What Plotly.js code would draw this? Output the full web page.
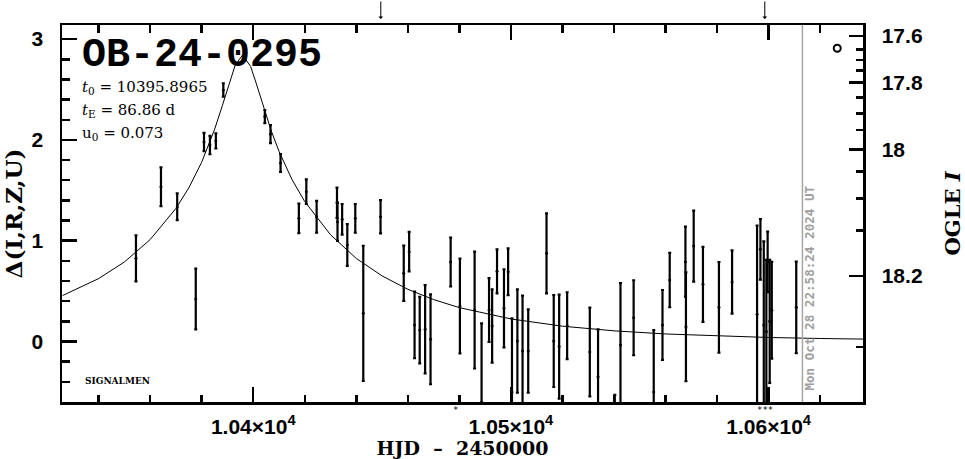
<!DOCTYPE html>
<html>
<head>
<meta charset="utf-8">
<script src="https://cdn.plot.ly/plotly-3.0.1.min.js"></script>
<style>html,body{margin:0;padding:0;background:#fff;}#chart{width:965px;height:459px;}</style>
</head>
<body>
<div id="chart"></div>
<script>
// Observed OGLE points: HJD-2450000, Delta(I,R,Z,U), error
const hjd = [10354.5,10364.2,10370.5,10377.7,10380.9,10383.2,10385.5,10388.4,10396.8,10404.5,
  10406.7,10410.6,10417.7,10420.6,10424.6,10432.5,10432.7,10434.5,10436.5,10439.6,
  10442.7,10449.4,10458.4,10460.5,10462.6,10464.6,10466.7,10468.8,10476.6,10480.2,
  10485.9,10488.6,10491.5,10492.7,10494.6,10497.3,10498.9,10500.4,10502.5,10504.5,
  10506.7,10513.8,10516.6,10518.7,10521.8,10530.6,10533.8,10540.3,10542.5,10547.6,
  10555.4,10558.8,10561.6,10567.7,10567.9,10570.9,10574.5,10580.7,10585.8,10595.5,
  10596.8,10598.1,10599.1,10599.6,10600.4,10601.2,10610.7];
const delta = [0.825,1.536,1.337,0.422,1.979,1.95,1.99,2.495,2.862,2.232,
  2.058,1.771,1.222,1.486,1.238,1.377,1.188,1.212,0.957,1.222,
  0.28,1.238,0.677,0.891,0.164,0.114,0.121,0.022,0.789,0.352,
  0.3125,-0.6,0.3125,0.154,0.696,0.329,0.693,-0.5,0.005,-0.094,
  -0.094,0.875,0.005,-0.05,0.157,-0.104,-0.35,-0.95,-0.035,0.236,
  -0.5,0.164,0.61,0.792,0.147,0.947,0.567,0.339,0.59,0.27,
  0.915,0.164,0.1,0.79,0.2,0.31,0.339];
const deltaErr = [0.228,0.192,0.132,0.301,0.09,0.09,0.075,0.066,0.075,0.065,
  0.09,0.088,0.146,0.122,0.157,0.15,0.19,0.152,0.207,0.141,
  0.67,0.165,0.274,0.196,0.33,0.33,0.438,0.446,0.243,0.471,
  0.58,0.78,0.317,0.364,0.218,0.387,0.232,0.73,0.513,0.55,
  0.413,0.397,0.456,0.516,0.332,0.44,0.47,0.42,0.615,0.372,
  0.614,0.347,0.27,0.347,0.54,0.352,0.372,0.45,0.314,0.88,
  0.3,0.83,0.71,0.3,0.61,0.48,0.454];

// Model curve
const modelHjd = [10326,10340,10350,10360,10370,10375,10380,10385,10388,10391,10393,10395.9,
  10399,10401,10404,10407,10410,10415,10420,10430,10440,10450,10460,10470,10480,
  10500,10520,10540,10560,10580,10600,10620,10637];
const modelDelta = [0.456,0.624,0.789,1.011,1.320,1.524,1.779,2.104,2.339,2.591,2.741,2.844,
  2.728,2.574,2.322,2.089,1.887,1.609,1.388,1.059,0.824,0.651,0.518,0.416,0.336,
  0.224,0.152,0.106,0.075,0.054,0.040,0.030,0.024];

// Groups of points below the plotted range, marked with '*' (one per point)
const offscaleHjd = [10478.5,10598.4];
const offscaleCount = [1,3];
// Arrows on top
const arrowHjd = [10449.5,10598.5];
// Current-time line
const nowHjd = 10613.1;
const nowLabel = 'Mon Oct 28 22:58:24 2024 UT';
// Symbol at top right
const symbolHjd = [10626.6];
const symbolDelta = [2.909];

// Axis ticks
const xTickVals = [10400,10500,10600];
const xTickText = ['1.04×10<sup>4</sup>','1.05×10<sup>4</sup>','1.06×10<sup>4</sup>'];
const yTickVals = [0,1,2,3];
const ogleMajorDelta = [3.031,2.571,1.907,0.650];
const ogleMajorText = ['17.6','17.8','18','18.2'];
const ogleMinorDelta = [2.899,2.793,2.687,2.423,2.264,2.098,1.685,1.421,1.099,-0.052];

const xRange = [10325.8,10636.6];
const yRange = [-0.6,3.14];

const traces = [
  {x: modelHjd, y: modelDelta, mode: 'lines', line: {color: 'black', width: 1}, hoverinfo: 'skip'},
  {x: hjd, y: delta, mode: 'markers', marker: {color: 'black', size: 3},
   error_y: {type: 'data', array: deltaErr, visible: true, color: 'black', thickness: 2.2, width: 1.5}},
  {x: symbolHjd, y: symbolDelta, mode: 'markers', marker: {symbol: 'circle-open', size: 7, color: 'black', line: {width: 2, color: 'black'}}},
  {x: xRange, y: yRange, yaxis: 'y2', mode: 'lines', line: {width: 0, color: 'rgba(0,0,0,0)'}, hoverinfo: 'skip'}
];

const axisCommon = {
  showgrid: false, zeroline: false, showline: true, linecolor: 'black', linewidth: 2.5,
  ticks: 'inside', ticklen: 15, tickwidth: 2.5, tickcolor: 'black'
};

const annotations = [
  {xref: 'paper', yref: 'paper', x: 0.0225, y: 0.920, xanchor: 'left', yanchor: 'middle', showarrow: false,
   text: 'OB-24-0295', font: {family: 'Liberation Mono', size: 40, color: 'black', weight: 'bold'}},
  {xref: 'paper', yref: 'paper', x: 0.0225, y: 0.833, xanchor: 'left', yanchor: 'middle', showarrow: false,
   text: '<i>t</i><sub>0</sub> = 10395.8965', font: {family: 'DejaVu Serif', size: 15, color: 'black'}},
  {xref: 'paper', yref: 'paper', x: 0.0225, y: 0.773, xanchor: 'left', yanchor: 'middle', showarrow: false,
   text: '<i>t</i><sub>E</sub> = 86.86 d', font: {family: 'DejaVu Serif', size: 15, color: 'black'}},
  {xref: 'paper', yref: 'paper', x: 0.0225, y: 0.713, xanchor: 'left', yanchor: 'middle', showarrow: false,
   text: 'u<sub>0</sub> = 0.073', font: {family: 'DejaVu Serif', size: 15, color: 'black'}},
  {xref: 'paper', yref: 'paper', x: 0.026, y: 0.0557, xanchor: 'left', yanchor: 'middle', showarrow: false,
   text: 'SIGNALMEN', font: {family: 'DejaVu Serif', size: 9, color: 'black', weight: 'bold'}},
  {xref: 'x', yref: 'paper', x: nowHjd, xshift: 7, y: 0.302, xanchor: 'center', yanchor: 'middle', textangle: -90, showarrow: false,
   text: nowLabel, font: {family: 'DejaVu Sans Mono', size: 12.6, color: '#a0a0a0', weight: 'bold'}}
].concat(arrowHjd.map(h => ({
  xref: 'x', yref: 'paper', x: h, y: 1.0159, ax: 0, ay: -19, axref: 'pixel', ayref: 'pixel',
  showarrow: true, arrowhead: 1, arrowsize: 0.8, arrowwidth: 1, arrowcolor: 'black', text: ''
}))).concat(offscaleHjd.map((h, i) => ({
  xref: 'x', yref: 'paper', x: h, y: 0, yshift: -8, xanchor: 'center', yanchor: 'middle', showarrow: false,
  borderpad: 0, text: '*'.repeat(offscaleCount[i]), font: {family: 'DejaVu Sans Mono', size: 9, color: 'black'}
})));

const layout = {
  width: 965, height: 459,
  margin: {l: 62, r: 102, t: 25, b: 57, pad: 0},
  paper_bgcolor: 'white', plot_bgcolor: 'white',
  showlegend: false,
  xaxis: Object.assign({}, axisCommon, {
    range: xRange, tickmode: 'array', tickvals: xTickVals, ticktext: xTickText, mirror: 'ticks',
    minor: {tickmode: 'linear', tick0: 10400, dtick: 20, ticks: 'inside', ticklen: 7.5, tickwidth: 2.5, tickcolor: 'black'},
    tickfont: {family: 'Liberation Sans', size: 21, color: 'black', weight: 'bold'}, ticklabelstandoff: 4,
    title: {text: 'HJD\u00a0\u00a0\u2013\u00a0\u00a02450000', font: {family: 'DejaVu Serif', size: 19, color: 'black', weight: 'bold'}, standoff: 5}
  }),
  yaxis: Object.assign({}, axisCommon, {
    range: yRange, tickmode: 'array', tickvals: yTickVals,
    minor: {tickmode: 'linear', tick0: 0, dtick: 0.2, ticks: 'inside', ticklen: 7.5, tickwidth: 2.5, tickcolor: 'black'},
    tickfont: {family: 'Liberation Sans', size: 21, color: 'black', weight: 'bold'}, ticklabelstandoff: 12,
    title: {text: 'Δ(I,R,Z,U)', font: {family: 'DejaVu Serif', size: 23, color: 'black', weight: 'bold'}, standoff: 6}
  }),
  yaxis2: Object.assign({}, axisCommon, {
    overlaying: 'y', side: 'right', range: yRange, tickmode: 'array', tickvals: ogleMajorDelta, ticktext: ogleMajorText,
    ticklen: 14,
    minor: {tickmode: 'array', tickvals: ogleMinorDelta, ticks: 'inside', ticklen: 7.5, tickwidth: 2.5, tickcolor: 'black'},
    tickfont: {family: 'Liberation Sans', size: 21, color: 'black', weight: 'bold'}, ticklabelstandoff: 12,
    title: {text: 'OGLE <i>I</i>', font: {family: 'DejaVu Serif', size: 21, color: 'black', weight: 'bold'}, standoff: 28}
  }),
  annotations: annotations,
  shapes: [{type: 'line', xref: 'x', yref: 'paper', x0: nowHjd, x1: nowHjd, y0: 0, y1: 1, line: {color: '#a6a6a6', width: 1.5}}]
};

Plotly.newPlot('chart', traces, layout, {staticPlot: true, displayModeBar: false});
</script>
</body>
</html>
